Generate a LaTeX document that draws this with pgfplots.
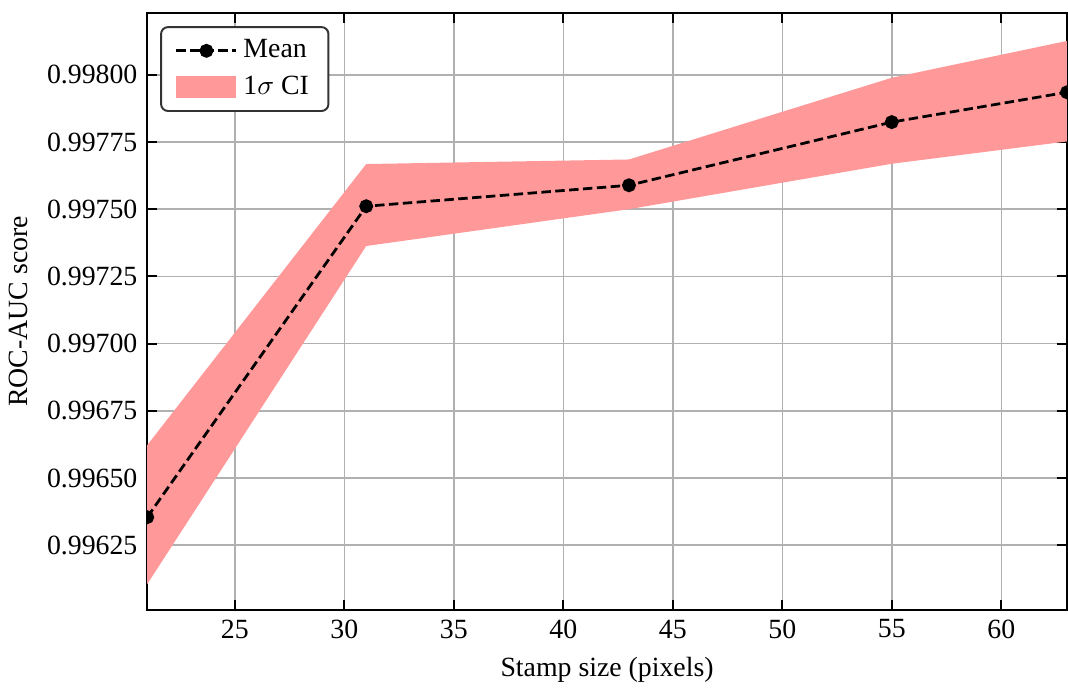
\documentclass[border=0pt]{standalone}
\usepackage{pgfplots}
\pgfplotsset{compat=1.18}
\usepackage{fontspec}
\setmainfont{Liberation Serif}
\definecolor{bandred}{RGB}{255,153,153}
\definecolor{gridgray}{RGB}{176,176,176}
\pgfplotsset{
  meanlegend/.style={legend image code/.code={
    \draw[##1, mark repeat=2, mark phase=2] plot coordinates {(0cm,0cm) (0.38cm,0cm) (0.76cm,0cm)};}},
  bandlegend/.style={legend image code/.code={
    \fill[##1, sharp corners] (0cm,-0.14cm) rectangle (0.76cm,0.14cm);}},
}

\begin{document}
\begin{tikzpicture}
\begin{axis}[
    scale only axis,
    width=330.8pt, height=214.7pt,
    xmin=21, xmax=63,
    ymin=0.996009, ymax=0.998230,
    xtick={25,30,...,60},
    ytick={0.99625,0.99650,0.99675,0.99700,0.99725,0.99750,0.99775,0.99800},
    scaled y ticks=false,
    yticklabel style={/pgf/number format/.cd, fixed, fixed zerofill, precision=5, assume math mode=true},
    xticklabel style={/pgf/number format/assume math mode=true},
    tick align=inside,
    major tick length=3.6pt,
    tick style={black, line width=0.75pt},
    axis line style={line width=0.75pt},
    grid=major,
    grid style={gridgray, line width=0.55pt},
    clip marker paths=true,
    xlabel={Stamp size (pixels)},
    ylabel={ROC-AUC score},
    font=\fontsize{10}{12}\selectfont,
    legend style={at={(0.014,0.978)}, anchor=north west, draw=black!80,
        line width=0.7pt, rounded corners=2.5pt, font=\fontsize{10}{12}\selectfont,
        inner xsep=5pt, inner ysep=2.5pt, row sep=1pt},
    legend cell align=left,
]
  % confidence band (upper edge then lower edge back)
  \addplot[fill=bandred, draw=none, forget plot] coordinates {
    (21,0.996622) (31,0.997668) (43,0.997685) (55,0.997989) (63,0.998126)
    (63,0.997752) (55,0.997669) (43,0.997500) (31,0.997363) (21,0.996105)
  } -- cycle;

  % mean
  \addplot[black, line width=1pt, dash pattern=on 3.4pt off 1.6pt,
      mark=*, mark size=2pt, mark options={solid}, forget plot] coordinates {
    (21,0.996354) (31,0.997511) (43,0.997589) (55,0.997824) (63,0.997935)
  };

  \addlegendimage{black, line width=1pt, dash pattern=on 3.4pt off 1.6pt,
      mark=*, mark size=2pt, mark options={solid}, meanlegend}
  \addlegendentry{Mean}
  \addlegendimage{fill=bandred, draw=none, bandlegend}
  \addlegendentry{1$\sigma$ CI}
\end{axis}
\path (current bounding box.north) ++(0,4.3pt);
\end{tikzpicture}
\end{document}
